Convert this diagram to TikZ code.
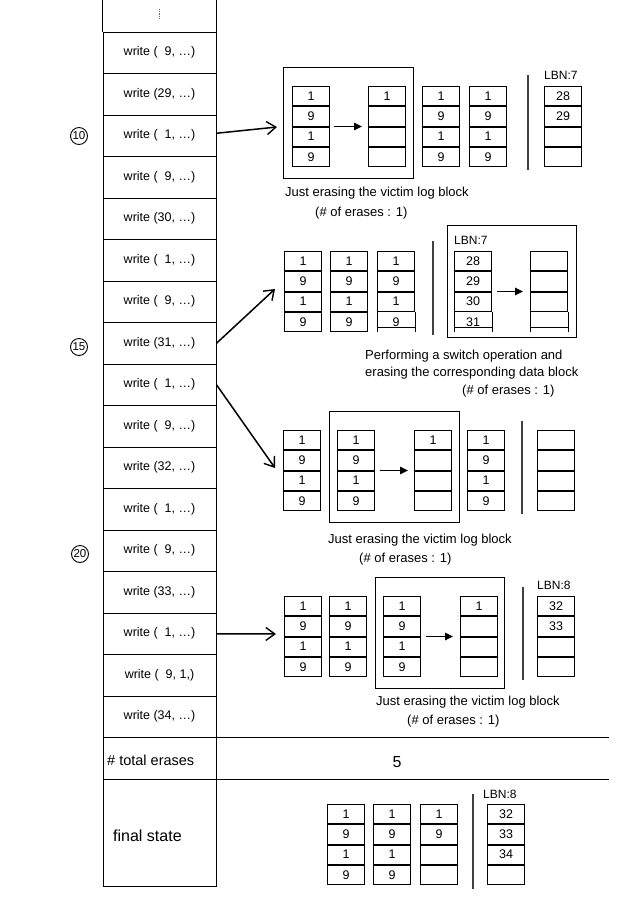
\documentclass[tikz,border=0pt]{standalone}
\usepackage{fontspec}
\setmainfont{Liberation Sans}
\usetikzlibrary{arrows.meta}
\tikzset{
  cell/.style={draw, line width=1pt, minimum width=37pt, minimum height=19.25pt, inner sep=0pt, font=\fontsize{12.5}{13}\selectfont},
  cellline/.style={line width=1pt},
  row/.style={draw, line width=1pt, minimum width=113pt, minimum height=41.5pt, inner sep=0pt, font=\fontsize{12.5}{14}\selectfont},
  frame/.style={draw, line width=1pt, inner sep=0pt},
  sepline/.style={line width=1.2pt, black!75},
  captxt/.style={anchor=west, inner sep=0pt, font=\fontsize{13}{15}\selectfont},
  lbn/.style={anchor=west, inner sep=0pt, font=\fontsize{12}{13}\selectfont},
  bigarr/.style={-{Straight Barb[length=9pt,width=13pt,line width=1.4pt]}, line width=1.5pt},
  smallarr/.style={-{Triangle[length=8pt,width=7.5pt]}, line width=1.6pt},
  circ/.style={circle, draw, line width=0.9pt, minimum size=17pt, inner sep=0pt, font=\fontsize{11.5}{12}\selectfont},
}
\newcommand\mkblock[7]{%
  \node[cell, anchor=north west] (#1-1) at (#2,#3) {#4};
  \node[cell, anchor=north] (#1-2) at (#1-1.south) {#5};
  \node[cell, anchor=north] (#1-3) at (#1-2.south) {#6};
  \node[cell, anchor=north] (#1-4) at (#1-3.south) {#7};
}
\newcommand\mkopenblock[7]{%
  \node[cell, anchor=north west] (#1-1) at (#2,#3) {#4};
  \node[cell, anchor=north] (#1-2) at (#1-1.south) {#5};
  \node[cell, anchor=north] (#1-3) at (#1-2.south) {#6};
  \node[cell, draw=none, anchor=north] (#1-4) at (#1-3.south) {#7};
  \draw[cellline] (#1-4.north west) -- (#1-4.south west) (#1-4.north east) -- (#1-4.south east);
  \draw[cellline] ([yshift=4.5pt]#1-4.south west) -- ([yshift=4.5pt]#1-4.south east);
}
\begin{document}
\begin{tikzpicture}[x=1pt,y=-1pt]
\useasboundingbox (0,0) rectangle (641,898);
% ---------- table ----------
\node[minimum width=113pt, minimum height=32pt, inner sep=0pt] (rtop) at (159.5,16) {};
\draw[line width=1pt] (rtop.north west) -- (rtop.south west) (rtop.north east) -- (rtop.south east);
\draw[densely dotted, line width=0.8pt, black!60] ([yshift=7pt]rtop.center) -- ([yshift=-3pt]rtop.center);
\foreach \k/\t in {0/{write (\hphantom{0}9, …)},1/{write (29, …)},2/{write (\hphantom{0}1, …)},3/{write (\hphantom{0}9, …)},4/{write (30, …)},5/{write (\hphantom{0}1, …)},6/{write (\hphantom{0}9, …)},7/{write (31, …)},8/{write (\hphantom{0}1, …)},9/{write (\hphantom{0}9, …)},10/{write (32, …)},11/{write (\hphantom{0}1, …)},12/{write (\hphantom{0}9, …)},13/{write (33, …)},14/{write (\hphantom{0}1, …)},15/{write (\hphantom{0}9, 1,)},16/{write (34, …)}}
  {\node[row] (r\k) at (159.5,52.75+41.5*\k) {\t};}
\node[row, minimum height=41.5pt] (tot) at (159.5,758.25) {};
\node[row, minimum height=107pt] (fin) at (159.5,832.5) {};
\node[anchor=west, inner sep=0pt, font=\fontsize{14.5}{16}\selectfont] (totlbl) at (107,760) {\# total erases};
\node[anchor=west, inner sep=0pt, font=\fontsize{16}{18}\selectfont] (finlbl) at (113,836) {final state};
\coordinate (xr) at (609,0);
\draw[line width=1pt] (tot.north east) -- (tot.north east -| xr);
\draw[line width=1pt] (tot.south east) -- (tot.south east -| xr);
\node[inner sep=0pt, font=\fontsize{16}{18}\selectfont] (five) at (397,762) {5};
% circled numbers
\node[circ] (c10) at (79,136) {10};
\node[circ] (c15) at (79,347) {15};
\node[circ] (c20) at (80,554) {20};
% ---------- row 1 ----------
\node[frame, minimum width=130pt, minimum height=111pt] (box1) at (348,122.5) {};
\mkblock{a1}{292}{86}{1}{9}{1}{9}
\mkblock{b1}{368}{86}{1}{}{}{}
\mkblock{c1}{422}{86}{1}{9}{1}{9}
\mkblock{d1}{469}{86}{1}{9}{1}{9}
\mkblock{e1}{544}{86}{28}{29}{}{}
\coordinate (v1t) at (528,75); \coordinate (v1b) at (528,170);
\draw[sepline] (v1t) -- (v1b);
\node[lbn] (lbn1) at (544,75) {LBN:7};
\draw[smallarr, shorten <=4pt, shorten >=6pt] (a1-2.south east) -- (b1-2.south west);
\node[captxt] (cap1a) at (285,193) {Just erasing the victim log block};
\node[captxt] (cap1b) at (315,213) {(\# of erases : 1)};
% ---------- row 2 ----------
\mkblock{a2}{284}{251}{1}{9}{1}{9}
\mkblock{b2}{330}{251}{1}{9}{1}{9}
\mkopenblock{c2}{377}{251}{1}{9}{1}{9}
\coordinate (v2t) at (433,241); \coordinate (v2b) at (433,335);
\draw[sepline] (v2t) -- (v2b);
\node[frame, minimum width=129pt, minimum height=112pt] (box2) at (511.5,281) {};
\node[lbn] (lbn2) at (454,240) {LBN:7};
\mkopenblock{d2}{454}{251}{28}{29}{30}{31}
\mkopenblock{e2}{530}{251}{}{}{}{}
\draw[smallarr, shorten <=5pt, shorten >=7pt] (d2-2.south east) -- (e2-2.south west);
\node[captxt] (cap2a) at (365,356) {Performing a switch operation and};
\node[captxt] (cap2b) at (365,373) {erasing the corresponding data block};
\node[captxt] (cap2c) at (462,391) {(\# of erases : 1)};
% ---------- row 3 ----------
\mkblock{a3}{283}{430}{1}{9}{1}{9}
\node[frame, minimum width=130pt, minimum height=111pt] (box3) at (394,466.5) {};
\mkblock{b3}{337}{430}{1}{9}{1}{9}
\mkblock{c3}{414}{430}{1}{}{}{}
\mkblock{d3}{467}{430}{1}{9}{1}{9}
\coordinate (v3t) at (522,421); \coordinate (v3b) at (522,514);
\draw[sepline] (v3t) -- (v3b);
\mkblock{e3}{537}{430}{}{}{}{}
\draw[smallarr, shorten <=5pt, shorten >=6pt] (b3-2.south east) -- (c3-2.south west);
\node[captxt] (cap3a) at (328,540) {Just erasing the victim log block};
\node[captxt] (cap3b) at (359,559) {(\# of erases : 1)};
% ---------- row 4 ----------
\mkblock{a4}{284}{596}{1}{9}{1}{9}
\mkblock{b4}{329}{596}{1}{9}{1}{9}
\node[frame, minimum width=129pt, minimum height=111pt] (box4) at (439.5,632.5) {};
\mkblock{c4}{383}{596}{1}{9}{1}{9}
\mkblock{d4}{460}{596}{1}{}{}{}
\coordinate (v4t) at (523,587); \coordinate (v4b) at (523,680);
\draw[sepline] (v4t) -- (v4b);
\node[lbn] (lbn4) at (537,585) {LBN:8};
\mkblock{e4}{537}{596}{32}{33}{}{}
\draw[smallarr, shorten <=5pt, shorten >=7pt] (c4-2.south east) -- (d4-2.south west);
\node[captxt] (cap4a) at (376,702) {Just erasing the victim log block};
\node[captxt] (cap4b) at (407,721) {(\# of erases : 1)};
% ---------- final ----------
\mkblock{a5}{327}{804}{1}{9}{1}{9}
\mkblock{b5}{373}{804}{1}{9}{1}{9}
\mkblock{c5}{420}{804}{1}{9}{}{}
\coordinate (v5t) at (473,794); \coordinate (v5b) at (473,889);
\draw[sepline] (v5t) -- (v5b);
\node[lbn] (lbn5) at (483,794) {LBN:8};
\mkblock{d5}{487}{804}{32}{33}{34}{}
% ---------- big arrows ----------
\coordinate (t1) at (277,127);
\coordinate (t2) at (275,289);
\coordinate (t3) at (275,468);
\coordinate (t4) at (276,634);
\draw[bigarr] ([yshift=2.5pt]r2.east) -- (t1);
\draw[bigarr] (r7.east) -- (t2);
\draw[bigarr] (r8.east) -- (t3);
\draw[bigarr] (r14.east) -- (t4);
\end{tikzpicture}
\end{document}
